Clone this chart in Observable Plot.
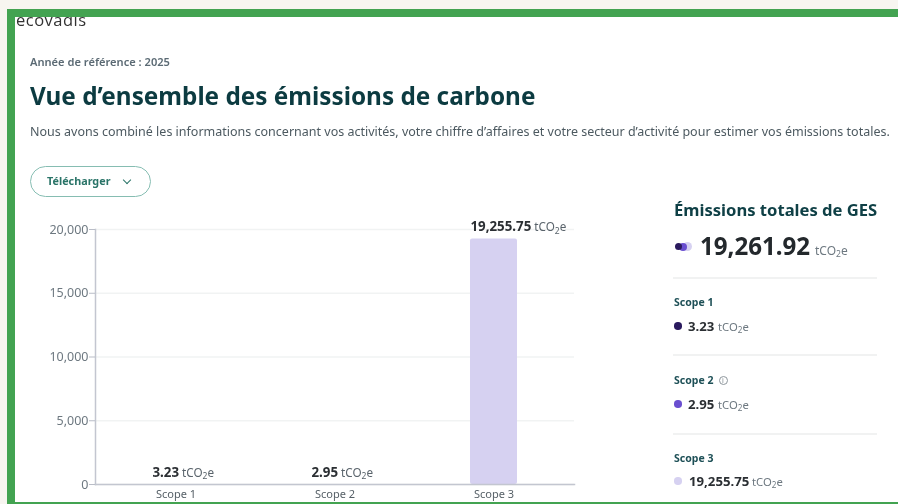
<!DOCTYPE html>
<html lang="fr">
<head>
<meta charset="utf-8">
<script src="https://cdn.jsdelivr.net/npm/d3@7"></script>
<script src="https://cdn.jsdelivr.net/npm/@observablehq/plot@0.6"></script>
<style>
html,body{margin:0;padding:0;background:#f7f5f0;font-family:"Noto Sans",sans-serif;}
#page{position:relative;width:898px;height:504px;overflow:hidden;background:#f7f5f0;}
#frame{position:absolute;left:7px;top:9px;width:891px;height:495px;background:#43a351;}
#inner{position:absolute;left:15px;top:17px;width:883px;height:485px;background:#fff;overflow:hidden;}
.t{position:absolute;white-space:nowrap;line-height:1;}
.hr{position:absolute;left:673px;width:204px;height:2px;background:#f1f2f2;}
.dot{position:absolute;border-radius:50%;}
sub{font-size:.72em;line-height:0;vertical-align:-.28em;}
#chart{position:absolute;left:0;top:0;}
#page>*{filter:blur(.25px);}
</style>
</head>
<body>
<div id="page">
  <div id="frame"></div>
  <div id="inner"><div class="t" style="left:1px;top:-5px;font-size:16.5px;letter-spacing:.5px;color:#333;font-family:'Open Sans',sans-serif;">ecovadis</div></div>
  <div id="chart"></div>
  <div id="head"></div>
  <div id="side"></div>
</div>
<script>
const scopes = ["Scope 1", "Scope 2", "Scope 3"];
const values = [3.23, 2.95, 19255.75];
const valueLabels = ["3.23", "2.95", "19,255.75"];
const colors = ["#2a1a5e", "#6a4fd0", "#d6d1f1"];
const yTicks = [0, 5000, 10000, 15000, 20000];
const totalLabel = "19,261.92";
const unit = "tCO₂e";

const table = scopes.map((scope, i) => ({scope, value: values[i], label: valueLabels[i]}));

const plot = Plot.plot({
  width: 898, height: 504,
  marginTop: 229, marginBottom: 20, marginLeft: 95, marginRight: 324,
  style: {background: "transparent", fontFamily: "'Noto Sans',sans-serif", overflow: "visible"},
  x: {domain: scopes, paddingInner: 0.705, paddingOuter: 0.3525, align: 0.5, label: null},
  y: {domain: [0, 20000], label: null},
  color: {domain: scopes, range: colors},
  marks: [
    Plot.gridY(yTicks, {stroke: "#f1f3f3", strokeOpacity: 1, strokeWidth: 1.5}),
    Plot.barY(table, {x: "scope", y: "value", fill: "scope", rx: 2}),
    Plot.frame({anchor: "left", stroke: "#c3c6d0", strokeWidth: 1.5}),
    Plot.frame({anchor: "bottom", stroke: "#c3c6d0", strokeWidth: 1.5}),
    Plot.axisY({ticks: yTicks, tickFormat: d3.format(","), tickSize: 6, tickPadding: 1, stroke: "#b9bdc7", fill: "#6d7880", fontSize: 12.5, label: null}),
    Plot.axisX({tickSize: 0, tickPadding: 6, fill: "#555f66", fontSize: 11, label: null}),
    Plot.text(table, {
      x: "scope", y: "value", text: "label", dx: -23.5, dy: -12,
      textAnchor: "start", fill: "#2b2f33", fontSize: 13.3, fontWeight: 700,
      className: "value-label"
    })
  ]
});

// Append the unit, with a true subscript, to each value label above the bars.
d3.select(plot).selectAll(".value-label text").each(function () {
  const t = d3.select(this);
  const unitOpts = s => s.attr("font-weight", 400).attr("fill", "#59636b").attr("font-size", 11.7);
  unitOpts(t.append("tspan").attr("dx", 3).text("tCO"));
  unitOpts(t.append("tspan").attr("dy", 2.5).text("2")).attr("font-size", 8.5);
  unitOpts(t.append("tspan").attr("dy", -2.5).text("e"));
});
document.getElementById("chart").append(plot);

const subUnit = unit.replace("₂", "<sub>2</sub>");
function text(host, left, top, size, weight, color, html, extra = "") {
  const el = document.createElement("div");
  el.className = "t";
  el.style.cssText = `left:${left}px;top:${top}px;font-size:${size}px;font-weight:${weight};color:${color};${extra}`;
  el.innerHTML = html;
  host.append(el);
  return el;
}
function dot(host, left, top, size, color) {
  const el = document.createElement("div");
  el.className = "dot";
  el.style.cssText = `left:${left}px;top:${top}px;width:${size}px;height:${size}px;background:${color};`;
  host.append(el);
}
function rule(host, top) {
  const el = document.createElement("div");
  el.className = "hr";
  el.style.top = top + "px";
  host.append(el);
}

const head = document.getElementById("head");
text(head, 30, 56, 11.1, 600, "#5b6a74", "Année de référence : 2025");
text(head, 30, 84, 24.3, 700, "#0c3b41", "Vue d’ensemble des émissions de carbone");
text(head, 30, 126, 12.5, 400, "#4c5960", "Nous avons combiné les informations concernant vos activités, votre chiffre d’affaires et votre secteur d’activité pour estimer vos émissions totales.");
const btn = document.createElement("div");
btn.style.cssText = "position:absolute;left:30px;top:166px;width:119px;height:29px;border:1.5px solid #86bdb2;border-radius:16px;";
head.append(btn);
text(head, 47, 176, 10.8, 700, "#2a7468", "Télécharger");
const chev = document.createElement("div");
chev.style.cssText = "position:absolute;left:123.5px;top:176.5px;width:5px;height:5px;border-right:1.5px solid #2a7468;border-bottom:1.5px solid #2a7468;transform:rotate(45deg);";
head.append(chev);

const side = document.getElementById("side");
text(side, 674, 202, 16.6, 700, "#0f4046", "Émissions totales de GES");
dot(side, 683, 242, 9, colors[2]);
dot(side, 679, 242.5, 8, colors[1]);
dot(side, 675, 243, 7, colors[0]);
text(side, 700, 234, 24.1, 700, "#23282c", totalLabel);
text(side, 815, 245, 12, 400, "#6d7880", subUnit);
rule(side, 277);
rule(side, 354);
rule(side, 433);

const rows = [
  {head: 296.5, val: 320, left: 688, unitLeft: 718},
  {head: 374.5, val: 398, left: 688, unitLeft: 718},
  {head: 452.5, val: 475, left: 689, unitLeft: 752}
];
scopes.forEach((s, i) => {
  const r = rows[i];
  text(side, 674, r.head, 10.5, 700, "#1e5057", s);
  dot(side, 674, r.val + 2, 7.5, colors[i]);
  text(side, r.left, r.val, 13.2, 700, "#2b2f33", valueLabels[i]);
  text(side, r.unitLeft, r.val + 1, 11.3, 400, "#6d7880", subUnit);
});
// info icon beside Scope 2
text(side, 718.5, 376, 7, 400, "#7c868c", "i",
  "width:7px;height:7px;line-height:7px;text-align:center;border:1px solid #8c959b;border-radius:50%;");
</script>
</body>
</html>
